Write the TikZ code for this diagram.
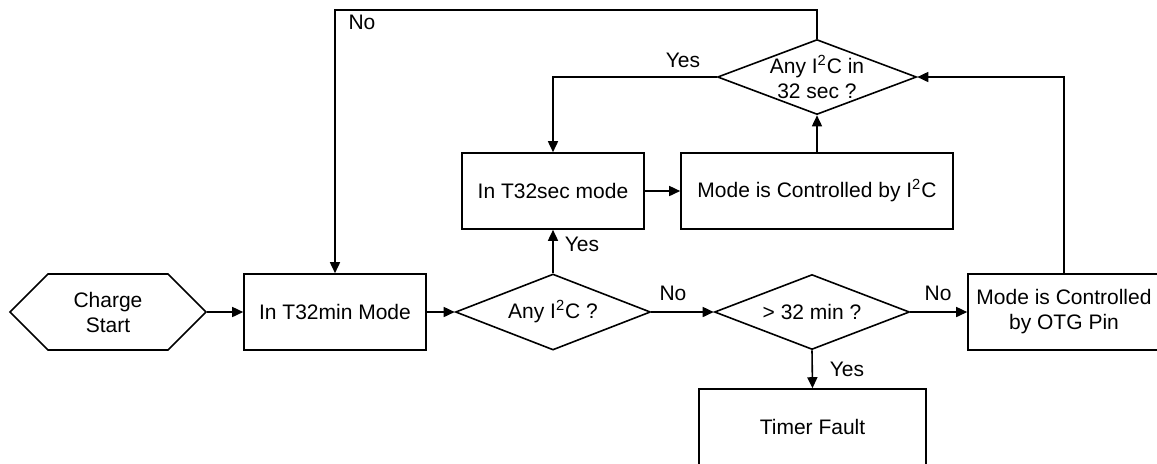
\documentclass[tikz,border=0pt]{standalone}
\usepackage{fontspec}
\setmainfont{Liberation Sans}
\usepackage{tikz}
\usetikzlibrary{arrows.meta,shapes.geometric,shapes.symbols,positioning}

\tikzset{
  box/.style={draw, line width=0.8pt, rectangle, inner sep=0pt, minimum height=38pt, align=center},
  decision/.style={draw, line width=0.8pt, diamond, inner sep=0pt, aspect=2.6, align=center},
  flow/.style={->, line width=0.8pt},
  lbl/.style={inner sep=0pt}
}

\begin{document}
\begin{tikzpicture}[x=0.5pt, y=-0.5pt, font=\fontsize{10.5pt}{12.5pt}\selectfont, line cap=butt, line join=miter, >={Triangle[length=5.5pt,width=5pt]}]
\useasboundingbox (0,0) rectangle (1157,463);
% nodes
\node[draw, line width=0.8pt, shape=signal, signal to=west and east, signal pointer angle=90, inner sep=0pt, minimum width=98pt, minimum height=38pt, align=center] (start) at (108,312) {Charge\\Start};
\node[box, minimum width=91pt] (t32min) at (335,312) {In T32min Mode};
\node[decision, minimum width=97.5pt, minimum height=38pt] (anyi2c) at (553,312) {Any I\textsuperscript{2}C ?};
\node[decision, minimum width=97.5pt, minimum height=37.5pt] (gt32) at (812,312) {> 32 min ?};
\node[box, minimum width=96pt] (otg) at (1064,312) {Mode is Controlled\\by OTG Pin};
\node[box, minimum width=91pt] (t32sec) at (553,191) {In T32sec mode};
\node[box, minimum width=136pt] (ctrli2c) at (817,191) {Mode is Controlled by I\textsuperscript{2}C};
\node[decision, minimum width=99.5pt, minimum height=37.5pt, label={[align=center, inner sep=0pt]center:Any I\textsuperscript{2}C in\\32 sec ?}] (any32) at (817,77) {};
\node[box, minimum width=113.5pt] (timer) at (812.5,427) {Timer Fault};
% labels
\node[lbl] (lno1) at (673,293) {No};
\node[lbl] (lno2) at (938,293) {No};
\node[lbl] (lyes1) at (847,369) {Yes};
\node[lbl] (lyes2) at (582,244) {Yes};
\node[lbl] (lyes3) at (683,60) {Yes};
\node[lbl] (lno3) at (362,22) {No};
% connectors
\coordinate (top) at (817,10);
\draw[flow] (start.east) -- (t32min.west);
\draw[flow] (t32min.east) -- (anyi2c.west);
\draw[flow] (anyi2c.east) -- (gt32.west);
\draw[flow] (gt32.east) -- (otg.west);
\draw[flow] (gt32.south) -- (timer.north);
\draw[flow] (anyi2c.north) -- (t32sec.south);
\draw[flow] (t32sec.east) -- (ctrli2c.west);
\draw[flow] (ctrli2c.north) -- (any32.south);
\draw[flow] (otg.north) |- (any32.east);
\draw[flow] (any32.west) -| (t32sec.north);
\draw[flow] (any32.north) -- (top) -| (t32min.north);
\end{tikzpicture}
\end{document}
